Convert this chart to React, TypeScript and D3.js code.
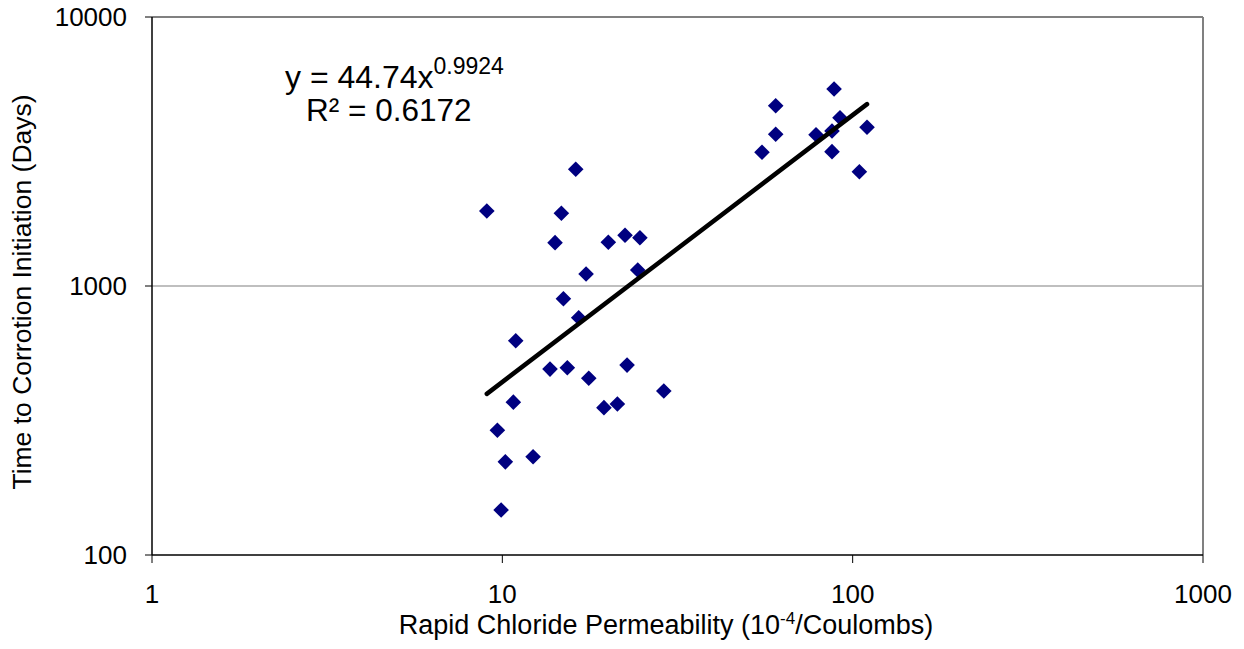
import React from "react";
import * as d3 from "d3";

// Data
const permeability = [
  9.03, 16.2, 14.74, 14.14, 20.07, 22.4, 24.7, 17.34, 24.35, 14.94, 16.52, 10.92,
  13.68, 15.33, 17.65, 22.7, 28.9, 10.75, 19.5, 21.3, 9.68, 10.2, 12.24, 9.92,
  88.5, 60.3, 60.3, 55.1, 92.0, 87.3, 78.6, 109.9, 87.3, 104.5,
];
const days = [
  1900, 2715, 1864, 1449, 1454, 1544, 1512, 1108, 1147, 897, 762, 626,
  491, 497, 454, 508, 407, 370, 353, 364, 291, 222, 232, 147,
  5398, 4681, 3664, 3141, 4223, 3769, 3652, 3890, 3158, 2660,
];
const xTicks = [1, 10, 100, 1000];
const yTicks = [100, 1000, 10000];
const yGrid = [1000];
const fitCoef = 44.74;
const fitExp = 0.9924;
const fitR2 = "0.6172";

const W = 1244;
const H = 649;
const L = 152, R = 1203, T = 17, B = 555;
const FONT = "'Liberation Sans', Arial, Helvetica, sans-serif";

export default function App() {
  const x = d3.scaleLog().domain([1, 1000]).range([L, R]);
  const y = d3.scaleLog().domain([100, 10000]).range([B, T]);
  const xmin = d3.min(permeability) as number;
  const xmax = d3.max(permeability) as number;
  const fitPts: [number, number][] = [xmin, xmax].map((v) => [v, fitCoef * Math.pow(v, fitExp)]);
  const line = d3
    .line<[number, number]>()
    .x((d) => x(d[0]))
    .y((d) => y(d[1]));
  const diamond = (cx: number, cy: number, r: number) =>
    `M${cx},${cy - r}L${cx + r},${cy}L${cx},${cy + r}L${cx - r},${cy}Z`;

  return (
    <svg
      width={W}
      height={H}
      style={{ position: "absolute", left: 0, top: 0, background: "#fff" }}
      fontFamily={FONT}
    >
      <rect x={0} y={0} width={W} height={H} fill="#fff" />
      {yGrid.map((v) => (
        <line key={v} x1={L} x2={R} y1={y(v)} y2={y(v)} stroke="#808080" strokeWidth={1.2} />
      ))}
      {/* plot border top/right */}
      <line x1={L} x2={R} y1={T} y2={T} stroke="#808080" strokeWidth={2} />
      <line x1={R} x2={R} y1={T} y2={B} stroke="#808080" strokeWidth={2} />
      {/* axes */}
      <line x1={L} x2={L} y1={T} y2={B} stroke="#000" strokeWidth={1.5} />
      <line x1={L} x2={R} y1={B} y2={B} stroke="#000" strokeWidth={1.5} />
      {yTicks.map((v) => (
        <g key={v}>
          <line x1={L - 7} x2={L} y1={y(v)} y2={y(v)} stroke="#000" strokeWidth={1} />
          <text x={127} y={y(v)} dy="0.35em" textAnchor="end" fontSize={26} fill="#000">
            {v}
          </text>
        </g>
      ))}
      {xTicks.map((v) => (
        <g key={v}>
          <line x1={x(v)} x2={x(v)} y1={B} y2={B + 8} stroke="#000" strokeWidth={1} />
          <text x={x(v)} y={603} textAnchor="middle" fontSize={26} fill="#000">
            {v}
          </text>
        </g>
      ))}
      {/* points */}
      {permeability.map((p, i) => (
        <path key={i} d={diamond(x(p), y(days[i]), 7.8)} fill="#000080" />
      ))}
      {/* trendline */}
      <path d={line(fitPts) || ""} fill="none" stroke="#000" strokeWidth={4.5} strokeLinecap="round" />
      {/* equation */}
      <text x={285} y={88} fontSize={32} fill="#000">
        {`y = ${fitCoef}x`}
        <tspan fontSize={23} dy={-14}>{fitExp}</tspan>
      </text>
      <text x={306} y={121} fontSize={31.5} fill="#000">
        {`R² = ${fitR2}`}
      </text>
      {/* axis titles */}
      <text x={666} y={634} textAnchor="middle" fontSize={27} fill="#000">
        Rapid Chloride Permeability (10
        <tspan fontSize={17} dy={-10}>-4</tspan>
        <tspan dy={10}>/Coulombs)</tspan>
      </text>
      <text
        transform="translate(31,292) rotate(-90)"
        textAnchor="middle"
        fontSize={26.5}
        fill="#000"
      >
        Time to Corrotion Initiation (Days)
      </text>
    </svg>
  );
}
